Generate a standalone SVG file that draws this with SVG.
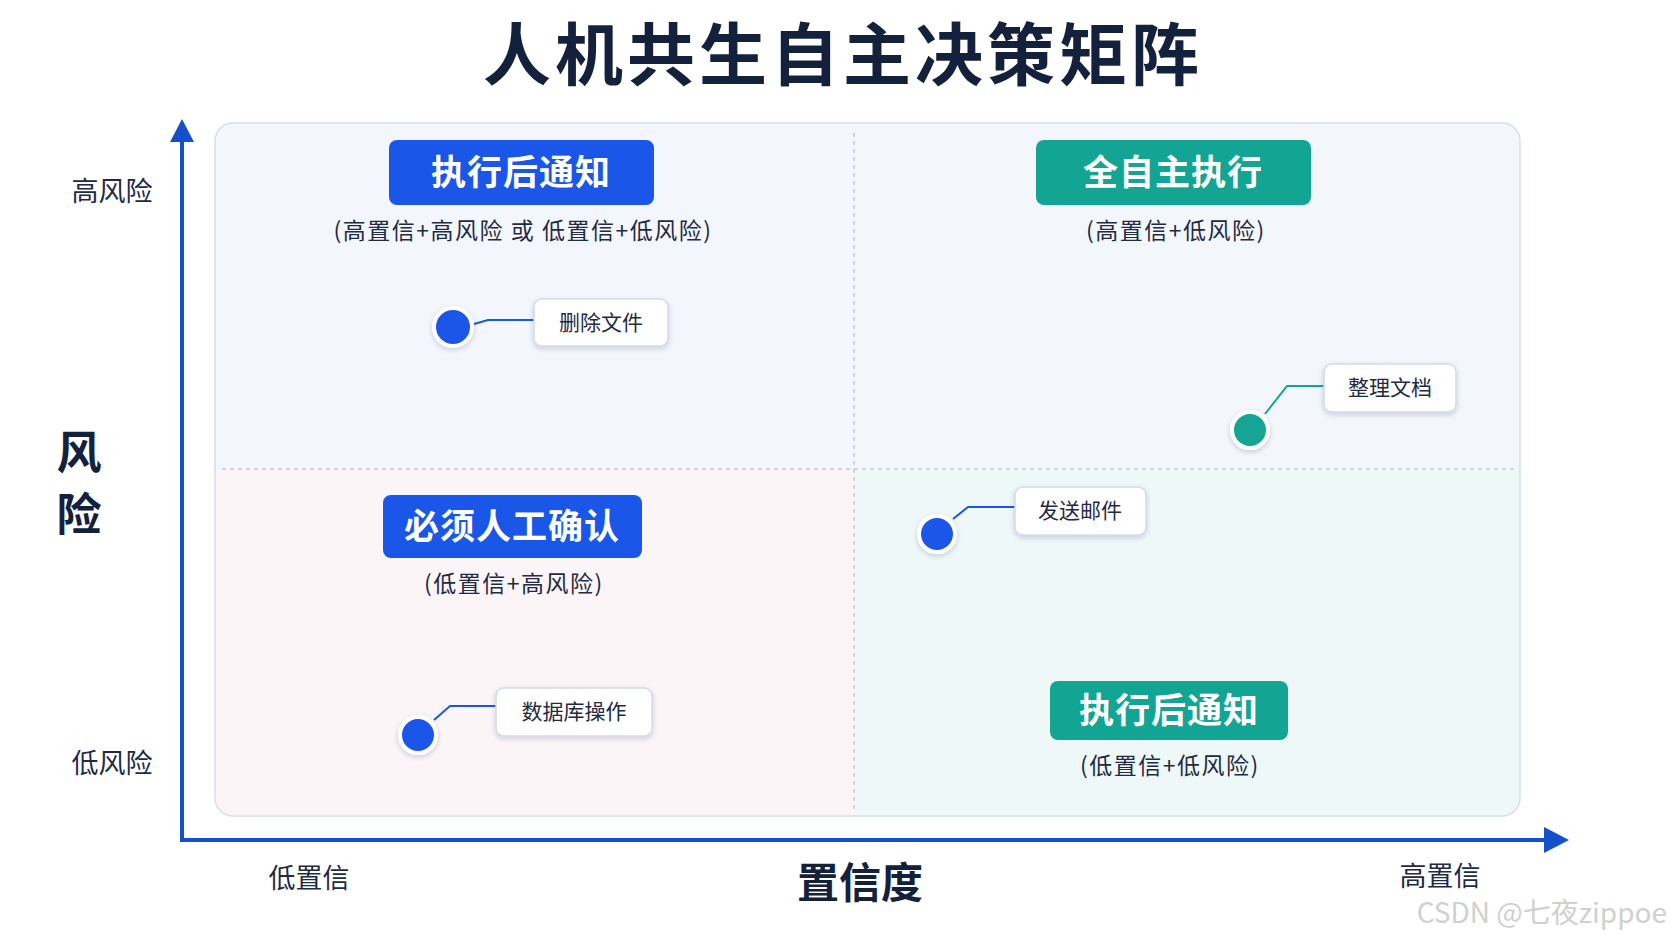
<svg xmlns="http://www.w3.org/2000/svg" width="1672" height="941" viewBox="0 0 1672 941">
<defs>
<style>
text{font-family:"Noto Sans CJK SC","Noto Sans",sans-serif;fill:#14213d}
.badge{font-size:35px;font-weight:700;fill:#fff;text-anchor:middle;letter-spacing:1px}
.sub{font-size:23px;text-anchor:middle;fill:#1f2a44;letter-spacing:1.5px}
.lbl{font-size:21px;text-anchor:middle;fill:#1f2a44}
.ax{font-size:27px;text-anchor:middle;fill:#1f2a44}
.box{fill:#fff;stroke:#d3dbe8;stroke-width:1.5}
.con{fill:none;stroke-width:2}
</style>
<filter id="sh" x="-30%" y="-30%" width="160%" height="160%"><feDropShadow dx="0" dy="2" stdDeviation="2.5" flood-color="#1a2a55" flood-opacity="0.2"/></filter>
<clipPath id="pc"><rect x="215" y="123" width="1305" height="693" rx="18"/></clipPath>
</defs>
<rect width="1672" height="941" fill="#fff"/>
<text x="843" y="80" font-size="68" font-weight="700" text-anchor="middle" fill="#0f1d3d" style="letter-spacing:4px">人机共生自主决策矩阵</text>
<g id="panel">
<g clip-path="url(#pc)">
<rect x="215" y="123" width="640" height="346" fill="#f3f7fd"/>
<rect x="855" y="123" width="665" height="346" fill="#f3f7fc"/>
<rect x="215" y="469" width="640" height="347" fill="#fbf5f7"/>
<rect x="855" y="469" width="665" height="347" fill="#eff8f8"/>
</g>
<rect x="215" y="123" width="1305" height="693" rx="18" fill="none" stroke="#d6deea" stroke-width="1.5"/>
<line x1="854" y1="133" x2="854" y2="810" stroke="#aab4c4" stroke-dasharray="4 4"/>
<line x1="222" y1="469" x2="1514" y2="469" stroke="#aab4c4" stroke-dasharray="4 4"/>
</g>
<g id="axes">
<path d="M182 840V132" stroke="#1450cc" stroke-width="4" fill="none"/>
<path d="M170 142L182 119L194 142z" fill="#1450cc"/>
<path d="M180 840H1546" stroke="#1450cc" stroke-width="4" fill="none"/>
<path d="M1544 827L1569 840L1544 853z" fill="#1450cc"/>
<text class="ax" x="112" y="201">高风险</text>
<text class="ax" x="112" y="773">低风险</text>
<text x="79" y="469" font-size="45" font-weight="700" text-anchor="middle" fill="#0f1d3d">风</text>
<text x="79" y="531" font-size="45" font-weight="700" text-anchor="middle" fill="#0f1d3d">险</text>
<text class="ax" x="309" y="888">低置信</text>
<text x="860" y="898" font-size="42" font-weight="700" text-anchor="middle" fill="#0f1d3d">置信度</text>
<text class="ax" x="1440" y="886">高置信</text>
</g>
<g id="q-tl">
<rect x="389" y="140" width="265" height="65" rx="8" fill="#1a56e8"/>
<text class="badge" x="521" y="185">执行后通知</text>
<text class="sub" x="523" y="239">(高置信+高风险 或 低置信+低风险)</text>
</g>
<g id="q-tr">
<rect x="1036" y="140" width="275" height="65" rx="8" fill="#12a594"/>
<text class="badge" x="1173" y="185">全自主执行</text>
<text class="sub" x="1176" y="239">(高置信+低风险)</text>
</g>
<g id="q-bl">
<rect x="383" y="495" width="259" height="63" rx="8" fill="#1a56e8"/>
<text class="badge" x="512" y="539">必须人工确认</text>
<text class="sub" x="514" y="592">(低置信+高风险)</text>
</g>
<g id="q-br">
<rect x="1050" y="681" width="238" height="59" rx="8" fill="#12a594"/>
<text class="badge" x="1169" y="723">执行后通知</text>
<text class="sub" x="1170" y="774">(低置信+低风险)</text>
</g>
<g id="connectors">
<path class="con" stroke="#1a56e8" d="M474 324L488 320H534"/>
<path class="con" stroke="#12a594" d="M1265 414L1287 386H1324"/>
<path class="con" stroke="#1a56e8" d="M434 720L450 706H496"/>
<path class="con" stroke="#1a56e8" d="M953 519L968 507H1015"/>
</g>
<g id="n-delete">
<circle cx="453" cy="327" r="19" fill="#1a56e8" stroke="#fff" stroke-width="4" filter="url(#sh)"/>
<rect class="box" x="534" y="299" width="134" height="47" rx="8" filter="url(#sh)"/>
<text class="lbl" x="601" y="330">删除文件</text>
</g>
<g id="n-organize">
<circle cx="1250" cy="430" r="18" fill="#12a594" stroke="#fff" stroke-width="4" filter="url(#sh)"/>
<rect class="box" x="1324" y="364" width="132" height="48" rx="8" filter="url(#sh)"/>
<text class="lbl" x="1390" y="395">整理文档</text>
</g>
<g id="n-db">
<circle cx="418" cy="735" r="18" fill="#1a56e8" stroke="#fff" stroke-width="4" filter="url(#sh)"/>
<rect class="box" x="496" y="688" width="156" height="48" rx="8" filter="url(#sh)"/>
<text class="lbl" x="574" y="719">数据库操作</text>
</g>
<g id="n-mail">
<circle cx="937" cy="534" r="18" fill="#1a56e8" stroke="#fff" stroke-width="4" filter="url(#sh)"/>
<rect class="box" x="1015" y="487" width="131" height="48" rx="8" filter="url(#sh)"/>
<text class="lbl" x="1080" y="518">发送邮件</text>
</g>
<text x="1667" y="923" font-size="28" text-anchor="end" font-family="'Liberation Sans','Noto Sans CJK SC',sans-serif" style="fill:#d0d0d0">CSDN @七夜zippoe</text>
</svg>
